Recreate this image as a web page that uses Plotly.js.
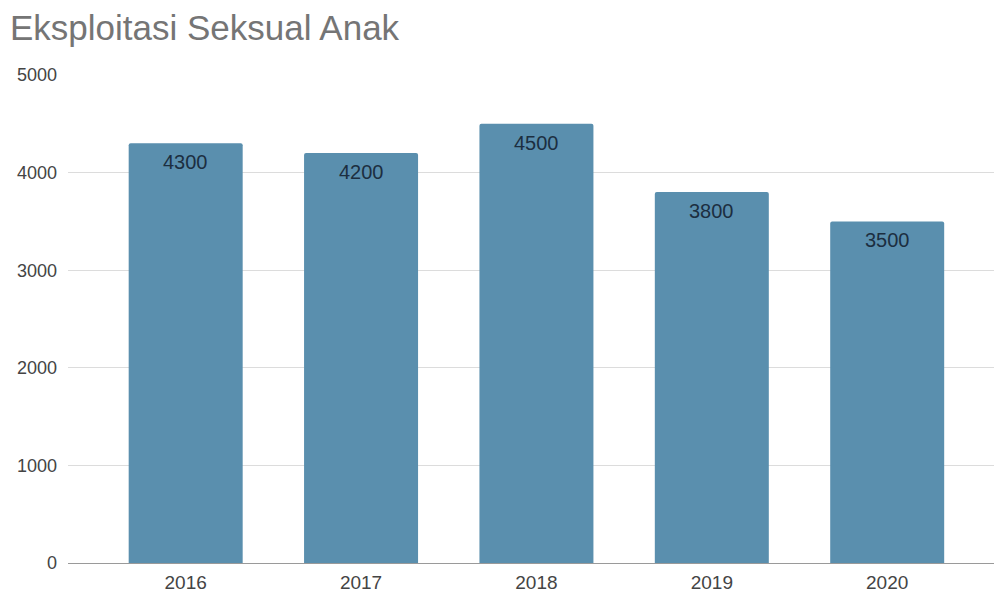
<!DOCTYPE html>
<html>
<head>
<meta charset="utf-8">
<script src="https://cdn.plot.ly/plotly-3.0.1.min.js"></script>
<style>html,body{margin:0;padding:0;background:#fff;}#chart{width:994px;height:595px;}</style>
</head>
<body>
<div id="chart"></div>
<script>
const years = ["2016", "2017", "2018", "2019", "2020"];
const cases = [4300, 4200, 4500, 3800, 3500];
const yTicks = [0, 1000, 2000, 3000, 4000, 5000];
const chartTitle = "Eksploitasi Seksual Anak";

const FONT = "Liberation Sans, Arial, sans-serif";

const trace = {
  type: "bar",
  x: years,
  y: cases,
  marker: {color: "#5a8fae", cornerradius: 2},
  hoverinfo: "none"
};

// category index positions of each bar on the category axis
const labels = years.map((yr, i) => ({
  x: i,
  y: cases[i],
  xref: "x",
  yref: "y",
  text: String(cases[i]),
  showarrow: false,
  yanchor: "middle",
  yshift: -19,
  font: {family: FONT, size: 20, color: "#1c2e40"}
}));

const layout = {
  width: 994,
  height: 595,
  margin: {l: 68, r: 0, t: 75, b: 32},
  paper_bgcolor: "#ffffff",
  plot_bgcolor: "#ffffff",
  bargap: 0.35,
  showlegend: false,
  font: {family: FONT, color: "#444444"},
  annotations: labels,
  title: {
    text: chartTitle,
    font: {family: FONT, size: 35, color: "#757575"},
    x: 10 / 994,
    xanchor: "left",
    xref: "container",
    y: 1 - 15 / 595,
    yanchor: "top",
    yref: "container"
  },
  xaxis: {
    type: "category",
    range: [-0.671, 4.609],
    showgrid: false,
    zeroline: false,
    showline: false,
    ticks: "",
    ticklabelstandoff: 6,
    tickfont: {size: 19, color: "#444444"},
    fixedrange: true
  },
  yaxis: {
    range: [0, 5000],
    tickvals: yTicks,
    ticktext: yTicks.map(String),
    showgrid: true,
    gridcolor: "#dcdcdc",
    gridwidth: 1,
    zeroline: true,
    zerolinecolor: "#9a9a9a",
    zerolinewidth: 1,
    showline: false,
    ticks: "",
    ticklabelstandoff: 10,
    tickfont: {size: 18, color: "#444444"},
    fixedrange: true
  }
};

Plotly.newPlot("chart", [trace], layout, {displayModeBar: false, staticPlot: true});
</script>
</body>
</html>
